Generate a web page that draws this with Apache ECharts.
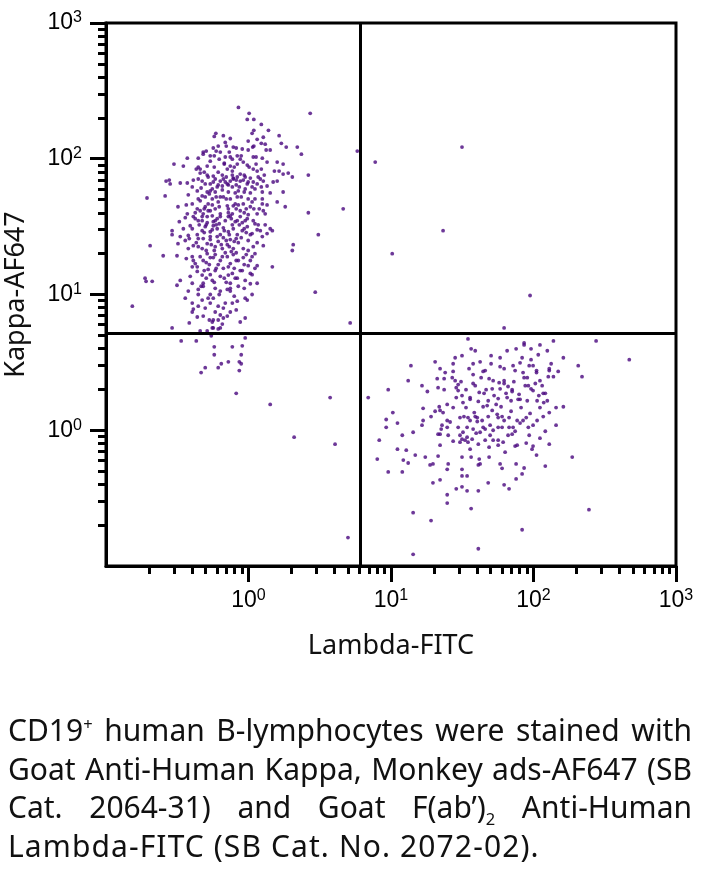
<!DOCTYPE html>
<html>
<head>
<meta charset="utf-8">
<script src="https://cdn.jsdelivr.net/npm/echarts@6/dist/echarts.min.js"></script>
<style>
html,body{margin:0;padding:0;background:#fff;}
#wrap{position:relative;width:703px;height:870px;overflow:hidden;}
#chart{position:absolute;left:0;top:0;width:703px;height:870px;}
#caption{position:absolute;left:8px;top:711px;width:684px;font-family:'Noto Sans';font-size:30px;line-height:38.7px;color:#111;}
#caption .ln{text-align:justify;text-align-last:justify;white-space:nowrap;}
#caption .ln.last{text-align-last:left;letter-spacing:1.1px;}
#caption sup,#caption sub{font-size:0.55em;line-height:0;}
</style>
</head>
<body>
<div id="wrap">
<div id="chart"></div>
<div id="caption">
<div class="ln">CD19<sup>+</sup> human B-lymphocytes were stained with</div>
<div class="ln">Goat Anti-Human Kappa, Monkey ads-AF647 (SB</div>
<div class="ln">Cat. 2064-31) and Goat F(ab’)<sub>2</sub> Anti-Human</div>
<div class="ln last">Lambda-FITC (SB Cat. No. 2072-02).</div>
</div>
</div>
<script>
// Axis settings (values)
const axisMin = 0.1;
const axisMax = 1000;
const majorTicks = [1, 10, 100, 1000];
const minorMultipliers = [2, 3, 4, 5, 6, 7, 8, 9];
const decadeStarts = [0.1, 1, 10, 100];
const quadX = 6.1;   // Lambda-FITC gate
const quadY = 5.2;   // Kappa-AF647 gate

// Kappa+ B cells: [Lambda-FITC, Kappa-AF647]
const kappaCells = [
[0.85,239],[1.01,216],[0.98,195],[1.09,195],[1.23,179],[1.09,162],[1.38,162],[0.59,154],[1.06,154],[0.575,146],
[0.666,148],[1.64,148],[0.745,141],[1.15,139],[1.27,144],[0.995,135],[0.687,132],[1.23,130],[1.31,128],[1.70,130],
[0.698,124],[1.09,124],[1.07,122],[0.613,124],[0.566,120],[0.593,114],[0.782,122],[0.82,120],[0.995,116],[1.33,116],
[1.42,116],[1.84,122],[2.2,122],[0.481,112],[0.481,108],[0.539,105],[0.575,105],[0.634,112],[2.35,108],[0.372,101],
[0.444,101],[0.687,103],[0.745,103],[0.834,105],[0.889,105],[1.08,103],[1.13,103],[1.25,101],[1.35,94.5],[1.59,94.5],
[1.75,91.3],[0.30,91.3],[0.349,88.3],[0.444,86.8],[0.458,84],[0.489,79.7],[0.458,78.4],[0.513,88.3],[0.575,86.8],[0.676,91.3],
[0.745,88.3],[0.71,84],[0.77,81.2],[0.834,91.3],[0.919,94.5],[0.98,89.8],[1.01,86.8],[1.08,84],[1.15,81.2],[1.23,84],
[1.52,81.2],[1.64,81.2],[1.75,77.1],[1.90,78.4],[2.03,73.4],[2.63,75.8],[0.613,79.7],[0.566,74.6],[0.521,73.4],[0.655,75.8],
[0.875,77.1],[0.948,73.4],[0.782,72.1],[0.264,68.5],[0.278,69.7],[0.282,65.2],[0.332,66.3],[0.372,66.3],[0.41,69.7],[0.473,68.5],
[0.539,65.2],[0.566,67.4],[0.557,59.9],[0.603,62],[0.634,68.5],[0.666,70.9],[0.71,65.2],[0.745,68.5],[0.782,70.9],[0.834,73.4],
[0.875,68.5],[0.919,69.7],[0.98,65.2],[1.03,72.1],[1.08,67.4],[1.15,65.2],[1.21,70.9],[1.27,68.5],[1.35,63],[1.49,67.4],
[1.59,68.5],[0.403,62],[0.437,57.9],[0.473,53.2],[0.513,56.9],[0.584,56.9],[0.655,58.9],[0.722,56.9],[0.77,62],[0.848,57.9],
[0.948,59.9],[1.03,56],[1.11,59.9],[1.25,56.9],[1.75,56.9],[0.26,53.2],[0.194,51.4],[0.32,44.3],[0.372,39.3],[0.327,34.4],
[0.403,46.5],[0.437,42.8],[0.458,49],[0.481,39.3],[0.521,46.5],[0.557,50.6],[0.584,42.8],[0.613,48.1],[0.634,39.3],[0.666,52.3],
[0.71,45],[0.745,50.6],[0.77,39.3],[0.807,46.5],[0.834,52.3],[0.875,41.4],[0.919,46.5],[0.98,36.2],[1.03,44.3],[1.11,50.6],
[1.15,39.3],[1.25,46.5],[1.27,41.4],[1.59,48.1],[1.81,44.3],[2.63,40],[0.41,37.5],[0.473,35],[0.513,37.5],[0.566,34.4],
[0.603,36.2],[0.687,35],[0.722,37.5],[0.834,35],[0.904,33.8],[0.995,38.7],[1.11,33.2],[0.458,41.4],[0.497,44.3],[0.539,41.4],
[0.36,36.8],[0.39,32.1],[0.423,36.2],[0.444,35],[0.473,37.5],[0.557,38],[0.584,35],[0.634,37.5],[0.745,38],[0.807,34.4],
[0.875,37.5],[0.948,35],[1.31,39.3],[0.291,29.5],[0.291,27.6],[0.332,26.7],[0.378,27.2],[0.437,27.6],[0.473,29.5],[0.497,31.6],
[0.539,29],[0.566,32.1],[0.603,30.5],[0.634,27.6],[0.666,31],[0.722,29],[0.782,30.5],[0.834,27.6],[0.904,29.5],[0.98,31.6],
[1.06,28.1],[1.15,30],[1.35,28.1],[1.42,30.5],[1.47,29.5],[3.09,27.6],[0.204,22.9],[0.32,23.7],[0.36,25],[0.41,22.9],
[0.444,25.8],[0.473,21.8],[0.513,23.7],[0.539,25.4],[0.584,22.5],[0.613,24.6],[0.666,26.2],[0.71,23.3],[0.745,25.4],[0.782,21.8],
[0.848,24.1],[0.919,21.8],[0.995,25],[1.08,22.5],[1.27,22.9],[2.06,23.3],[2.03,21.1],[0.378,21.8],[0.252,19.3],[0.315,19.3],
[0.403,19],[0.423,16.9],[0.481,17.8],[0.513,20],[0.539,18.7],[0.584,19.7],[0.634,17.8],[0.687,20.3],[0.71,19],[0.745,16.9],
[0.782,19.7],[0.848,17.8],[0.919,18.7],[0.995,16.3],[1.06,19],[1.15,16.3],[1.11,20],[1.47,16],[0.437,16],[0.403,16],
[0.188,13.2],[0.191,12.5],[0.211,12.5],[0.315,11.7],[0.332,12.7],[0.39,13.6],[0.403,12.1],[0.437,14.8],[0.473,13.9],[0.481,12.1],
[0.521,15.3],[0.557,12.7],[0.584,15],[0.634,13.6],[0.666,15.6],[0.722,13.9],[0.745,12.1],[0.807,13.2],[0.875,15],[0.948,12.7],
[1.03,14.3],[1.11,15.6],[1.15,12.1],[0.481,11.5],[0.444,10.9],[0.153,8.2],[0.36,9.4],[0.378,10.6],[0.403,8.64],[0.444,10],
[0.473,9.09],[0.539,10],[0.566,9.4],[0.613,8.2],[0.634,10.6],[0.687,8.64],[0.71,10.9],[0.745,10.6],[0.77,8.64],[0.834,8.93],
[0.948,9.4],[0.98,9.09],[1.06,10],[2.94,10.4],[0.41,7.81],[0.539,8.64],[0.666,7.94],[0.384,6.17],[0.403,7.43],[0.437,6.83],
[0.481,6.94],[0.557,6.27],[0.566,6.49],[0.613,6.49],[0.666,6.71],[0.745,7.43],[0.948,6.71],[0.634,7.06],[0.566,5.67],[0.634,5.67],
[0.291,5.67],[0.458,5.39],[0.513,5.39],[0.557,5.67],[0.613,5.58],[2.71,216],[4.62,42.8],
[0.497,65.2],[0.613,64.1],[0.698,73.4],[0.82,64.1],[0.933,75.8],[1.06,62],[0.531,55.1],[0.634,52.3],[0.807,56],[0.995,50.6],
[0.557,45.7],[0.722,42.8],[0.848,45.7],[1.09,42.8],[0.505,32.6],[0.593,32.6],[0.77,32.6],[0.933,30.5],[0.539,26.7],[0.698,25],
[0.82,25.8],[1.03,27.6],[0.575,21.1],[0.655,21.8],[0.82,20.3],[0.964,19.7],[0.505,17.2],[0.613,16.6],[0.794,15.6],[0.933,16.6],
[0.539,14],[0.698,12.3],[0.848,11.5],[0.584,11.1],[0.521,9.4],[0.794,9.72],[0.676,92.9],[0.875,99.3],[0.539,96],[0.444,70.9],
[1.25,50.6],[1.17,32.6],[0.722,64.1],[0.964,42.8],[0.403,30.5],[0.366,18.4],[0.444,22.5],[1.06,14],[0.489,42.8],[0.77,99.3],
[0.505,114],[0.733,112],[0.904,118],[0.623,99.3],[1.13,91.3],[0.794,86.8],[0.43,84],[1.29,75.8],[0.513,75.8],[0.584,70.9],
[0.687,67.4],[0.77,75.8],[0.862,62],[0.995,67.4],[1.17,73.4],[0.465,60.9],[0.539,57.9],[0.655,63],[0.82,69.7],[0.933,56.9],
[0.378,54.2],[1.23,62],[1.42,56],[0.444,50.6],[0.497,52.3],[0.593,52.3],[0.698,50.6],[0.782,45],[0.889,52.3],[1.06,48.1],
[1.19,42.8],[0.521,41.4],[0.623,44.3],[0.722,40],[0.82,42.8],[0.933,40],[0.423,40],[1.35,45.7],[0.366,45.7],[0.451,32.6],
[0.513,33.8],[0.557,30],[0.623,33.2],[0.676,29.5],[0.757,36.2],[0.862,32.6],[0.964,28.6],[1.08,35],[1.21,29.5],[0.489,28.6],
[0.733,27.6],[0.349,30.5],[1.31,32.6],[0.43,24.1],[0.481,25.8],[0.548,23.3],[0.603,26.7],[0.644,23.3],[0.733,22.5],[0.794,24.6],
[0.889,26.2],[0.995,21.1],[1.15,24.1],[0.505,21.1],[0.757,20.7],[0.384,25.8],[1.25,26.7],[0.458,19],[0.531,16.6],[0.566,18.7],
[0.655,19],[0.722,16],[0.82,17.8],[0.904,15],[1.03,17.8],[0.489,15],[0.593,15.6],[0.77,14.3],[0.41,17.8],[0.505,13.2],
[0.575,12.3],[0.676,13.2],[0.745,11.1],[0.834,13.2],[0.933,11.1],[0.623,10],[0.465,11.5],[1.03,12],[0.497,7.94],[0.584,7.43],
[0.71,6.94],[0.82,7.7],[0.531,6.49],[0.655,6.06],[0.875,6.27],[0.444,8.2],
[0.337,4.55],[0.43,4.55],[0.548,4.96],[0.948,4.79],[0.575,4.12],[0.77,4.12],[0.904,4.19],[0.575,3.6],[0.889,3.6],[0.722,3.19],
[0.644,3.09],[0.862,3.19],[0.889,3.09],[0.497,2.89],[0.613,2.89],[0.465,2.66],[0.862,2.75],[0.82,1.87]
];

// Lambda+ B cells: [Lambda-FITC, Kappa-AF647]
const lambdaCells = [
[34.7,4.71],[275,4.55],[138,4.55],[85.9,4.4],[85.9,4.25],[111,4.25],[36.5,3.98],[39,3.85],[65.3,3.85],[75.5,3.98],
[96.1,3.98],[125,3.85],[50.4,3.54],[31.5,3.54],[83.2,3.42],[96.1,3.31],[108,3.6],[162,3.42],[470,3.31],[20.4,3.19],
[27.3,3.09],[37.7,3.09],[50.4,3.09],[58.3,2.94],[71.9,2.99],[93.3,2.99],[99.3,2.99],[133,3.09],[206,2.99],[13.8,2.99],
[22.1,2.84],[35.3,2.84],[45.8,2.75],[44.3,2.71],[62.2,2.84],[74.3,2.75],[84.5,2.66],[85.9,2.44],[105,2.75],[105,2.66],
[129,2.84],[129,2.75],[149,2.71],[219,2.48],[27.3,2.71],[13.2,2.32],[21.1,2.4],[28.2,2.32],[29.6,2.17],[23.6,2.4],
[37.7,2.57],[37.7,2.21],[48.8,2.4],[52.1,2.32],[62.2,2.32],[62.2,2.21],[87.5,2.13],[92,2.13],[96.1,2.02],[111,2.32],
[115,2.13],[127,2.48],[138,2.48],[9.56,1.99],[16.5,2.13],[18,1.93],[21.4,2.06],[23.6,1.99],[28.7,2.06],[29.6,1.96],
[31.5,1.8],[35.9,1.74],[41.6,1.9],[45,1.87],[51.3,2.02],[58.3,2.02],[66.3,2.1],[70.8,1.99],[70.8,1.93],[99.3,1.96],
[117,1.87],[121,1.87],[125,1.65],[118,1.6],[106,1.65],[90.4,1.65],[78,1.69],[80.5,1.69],[69.6,1.65],[65.3,1.74],
[56.5,1.71],[48.1,1.65],[54.7,1.55],[47.3,1.52],[41,1.63],[35.9,1.69],[32,1.6],[27.3,1.47],[24.8,1.55],[21.8,1.49],
[22.1,1.4],[20.4,1.38],[16.8,1.45],[6.92,1.74],[10.3,1.35],[9.25,1.2],[9.25,1.05],[11.1,1.13],[16.5,1.09],[16.8,1.18],
[19.1,1.26],[23.2,1.35],[24.8,1.18],[30.5,1.24],[32.5,1.26],[34.7,1.24],[35.9,1.18],[39,1.26],[40.3,1.24],[40.3,1.16],
[43.6,1.18],[44.3,1.05],[48.1,1.26],[55.6,1.31],[56.5,1.24],[60.2,1.26],[62.2,1.18],[67.4,1.24],[76.8,1.18],[80.5,1.13],
[84.5,1.18],[88.9,1.24],[106,1.18],[117,1.26],[129,1.35],[144,1.09],[92,1.05],[99.3,1.09],[71.9,1.05],[67.4,1.05],
[60.2,1.05],[56.5,1.05],[52.1,1.0],[45.8,1.02],[42.2,0.967],[37.7,1.02],[34.2,1.05],[32,0.967],[24.8,1.05],[22.8,1.09],
[22.5,1.02],[22.1,0.935],[14.3,0.967],[12,0.919],[8.27,0.845],[21.4,0.935],[25.2,0.919],[30.5,0.919],[31.5,0.859],[30.5,0.817],
[33.1,0.845],[34.7,0.817],[34.2,0.889],[37.1,0.859],[41,0.79],[45.8,0.845],[49.6,0.919],[52.1,0.845],[56.5,0.845],[56.5,0.777],
[61.2,0.817],[66.3,0.919],[70.8,0.935],[76.8,0.777],[93.3,0.919],[97.7,0.725],[99.3,0.764],[111,0.874],[121,0.983],[129,0.79],
[105,0.656],[121,0.545],[187,0.634],[74.3,0.764],[48.8,0.634],[41.6,0.613],[42.2,0.565],[36.5,0.634],[31.5,0.634],[21.4,0.645],
[19.7,0.565],[17.4,0.634],[18.8,0.555],[14.8,0.656],[13.2,0.574],[12.8,0.713],[11.1,0.725],[12.2,0.603],[8.01,0.613],[9.56,0.493],
[12,0.493],[25.2,0.565],[24.8,0.515],[31.5,0.515],[34.2,0.461],[31.5,0.461],[41,0.555],[58.3,0.565],[60.2,0.524],[75.5,0.565],
[85.9,0.527],[83.2,0.477],[75.5,0.438],[48.1,0.41],[62.2,0.396],[67.4,0.37],[41,0.358],[34.2,0.358],[31.5,0.383],[28.7,0.37],
[22.1,0.431],[19.7,0.41],[24.8,0.335],[24.8,0.291],[36.5,0.265],[14.3,0.247],[19.1,0.216],[83.2,0.185],[245,0.26],[41,0.134],
[14.3,0.122],[144,1.47],[162,1.49],
[24,2.66],[26.9,2.44],[31,2.28],[33.6,1.99],[39,2.13],[42.9,2.44],[46.5,1.99],[52.9,1.8],[57.4,2.24],[64.2,1.87],
[72.8,2.28],[79.2,1.84],[90.4,2.44],[103,2.21],[109,1.8],[28.7,1.74],[33.6,1.47],[38.4,1.35],[44.3,1.49],[51.3,1.4],
[59.2,1.49],[69.6,1.38],[81.8,1.47],[94.6,1.33],[111,1.47],[26,1.15],[29.6,1.05],[39.6,0.951],[49.6,1.09],[74.3,0.983],
[27.3,0.831],[48.8,0.751],[63.2,0.69],[88.9,0.804],[35.9,0.725],[22.1,0.777],[80.5,3.14],[58.3,3.42],[42.2,3.19],[28.2,3.42]
];

// Events in the other quadrants / isolated
const otherEvents = [
[5.8,114],[7.75,94.5],[31.5,122],[23.2,29.5],[10.2,20],[94.6,9.83],[62.2,5.67],[5.17,6.17],
[1.42,1.55],[3.74,1.74],[2.09,0.889],[4.05,0.79],[4.99,0.162]
];

const minorTicks = [];
decadeStarts.forEach(function (d) {
  minorMultipliers.forEach(function (m) { minorTicks.push(+(d * m).toPrecision(3)); });
});

const dotColor = '#48067e';
const chart = echarts.init(document.getElementById('chart'), null, {renderer: 'canvas'});

function expLabel(v) {
  const e = Math.round(Math.log10(v));
  if (e < 0) return '';
  return '{b|10}{s|' + e + '}';
}
const richLabel = {
  b: {fontFamily: 'Liberation Sans', fontSize: 23, color: '#000', lineHeight: 26},
  s: {fontFamily: 'Liberation Sans', fontSize: 16, color: '#000', lineHeight: 16, verticalAlign: 'top'}
};
function baseAxis(extra) {
  return Object.assign({
    type: 'log', logBase: 10, min: axisMin, max: axisMax, gridIndex: 0,
    splitLine: {show: false}, minorSplitLine: {show: false}, minorTick: {show: false},
    nameLocation: 'middle',
    nameTextStyle: {fontFamily: 'Noto Sans', fontSize: 27, color: '#111'}
  }, extra);
}
function mainAxis(extra) {
  return baseAxis(Object.assign({
    axisLine: {show: true, onZero: false, lineStyle: {color: '#000', width: 3}},
    axisTick: {show: true, inside: false, length: 16, customValues: majorTicks, lineStyle: {color: '#000', width: 3}}
  }, extra));
}
function minorAxis(extra) {
  return baseAxis(Object.assign({
    axisLine: {show: false},
    axisLabel: {show: false},
    axisTick: {show: true, inside: false, length: 8, customValues: minorTicks, lineStyle: {color: '#000', width: 3}}
  }, extra));
}
const scatterStyle = {symbol: 'circle', symbolSize: 3.8, itemStyle: {color: dotColor}, silent: true};

chart.setOption({
  animation: false,
  backgroundColor: '#fff',
  grid: {left: 106, right: 27, top: 23, bottom: 304, show: true, borderColor: '#000', borderWidth: 3,
         backgroundColor: 'transparent', containLabel: false, outerBoundsMode: 'none'},
  xAxis: [
    mainAxis({position: 'bottom', name: 'Lambda-FITC', nameGap: 67,
      axisLabel: {margin: 22, customValues: majorTicks, formatter: expLabel, rich: richLabel}}),
    minorAxis({position: 'bottom'})
  ],
  yAxis: [
    mainAxis({position: 'left', name: 'Kappa-AF647', nameGap: 76, nameRotate: 90,
      axisLabel: {margin: 24, customValues: majorTicks, formatter: expLabel, rich: richLabel}}),
    minorAxis({position: 'left'})
  ],
  series: [
    Object.assign({type: 'scatter', name: 'Kappa', data: kappaCells}, scatterStyle),
    Object.assign({type: 'scatter', name: 'Lambda', data: lambdaCells,
      markLine: {
        silent: true, symbol: ['none', 'none'], label: {show: false},
        lineStyle: {color: '#000', width: 3, type: 'solid'},
        data: [{xAxis: quadX}, {yAxis: quadY}]
      }}, scatterStyle),
    Object.assign({type: 'scatter', name: 'Other', data: otherEvents}, scatterStyle)
  ]
});
</script>
</body>
</html>
